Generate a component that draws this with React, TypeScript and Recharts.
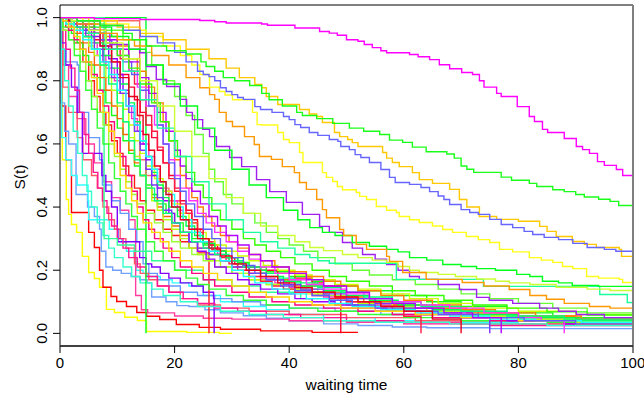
import React from "react";
import { LineChart, Line, XAxis, YAxis, ReferenceLine, Label } from "recharts";

type Pt = [number, number];

const xTicks = [0, 20, 40, 60, 80, 100];
const yTicks = [0, 0.2, 0.4, 0.6, 0.8, 1.0];
const xTitle = "waiting time";
const yTitle = "S(t)";

// ---- long-running curves ----
const magentaTop: Pt[] = [[0,1],[6,0.997],[14,0.994],[24.4,0.991],[27,0.987],[29,0.983],[35.2,0.98],[36.2,0.976],[41,0.967],[45.3,0.956],[47,0.951],[48.4,0.944],[50,0.93],[52,0.925],[53.1,0.915],[54.5,0.905],[56,0.895],[57,0.889],[61,0.883],[62.5,0.876],[64.5,0.867],[66.2,0.851],[68,0.838],[70.1,0.826],[72,0.82],[73.2,0.8],[74,0.78],[76.2,0.76],[77,0.75],[79.8,0.718],[81.9,0.687],[82.8,0.671],[84.2,0.646],[85.1,0.636],[88,0.617],[90.1,0.592],[91.2,0.582],[92.4,0.57],[93.8,0.544],[95,0.532],[97.1,0.519],[98.2,0.5],[100,0.497]];
const greenTop: Pt[] = [[0,1],[3,0.99],[7,0.975],[11,0.95],[12.6,0.93],[15.1,0.91],[18.6,0.895],[22,0.885],[24.6,0.86],[25.5,0.845],[27,0.83],[28.5,0.81],[30.5,0.8],[33.1,0.785],[35.2,0.76],[36.5,0.74],[38.8,0.72],[41.3,0.7],[42.3,0.69],[44.8,0.68],[47.6,0.665],[50.5,0.65],[53,0.64],[55.8,0.63],[57.5,0.612],[59.8,0.605],[61.5,0.59],[63.9,0.575],[67.5,0.568],[68.8,0.555],[70,0.53],[71,0.52],[72.2,0.51],[75.8,0.51],[77,0.495],[78.8,0.485],[81.9,0.475],[83.2,0.465],[86,0.455],[88,0.449],[90,0.44],[91.5,0.432],[94,0.425],[96,0.418],[97.5,0.405],[100,0.39]];
const blueLong: Pt[] = [[0,1],[3,0.99],[7,0.975],[11,0.96],[14,0.94],[17,0.92],[20,0.89],[22,0.86],[24,0.83],[25,0.82],[26,0.813],[27,0.8],[28,0.778],[29,0.766],[30,0.756],[31,0.747],[32,0.741],[34,0.718],[35,0.709],[37,0.7],[39,0.687],[40,0.677],[41,0.661],[42,0.652],[43.5,0.636],[45,0.627],[47,0.614],[48.5,0.608],[49,0.592],[50.5,0.582],[51.5,0.566],[52.5,0.557],[54,0.541],[56,0.519],[57.5,0.494],[58.5,0.478],[61,0.472],[63,0.462],[64.5,0.449],[66,0.435],[67,0.424],[68,0.408],[70,0.392],[71.5,0.383],[73,0.377],[75,0.361],[77,0.345],[79,0.335],[81,0.323],[82.5,0.313],[84.5,0.304],[87,0.297],[89.5,0.285],[92,0.272],[95,0.266],[97,0.26],[100,0.26]];
const goldLong: Pt[] = [[0,1],[5,0.99],[10,0.97],[14,0.95],[18,0.93],[22,0.9],[26,0.87],[29,0.84],[31.3,0.81],[34,0.788],[35.2,0.778],[36,0.75],[38,0.725],[41.8,0.709],[43.5,0.695],[44.8,0.687],[45.8,0.668],[47.9,0.636],[48.8,0.623],[50.2,0.614],[51,0.604],[52,0.592],[56.3,0.573],[57,0.555],[58,0.541],[59.2,0.528],[61.5,0.509],[62.7,0.487],[65,0.475],[68,0.456],[69.7,0.424],[71,0.4],[73.2,0.37],[76.2,0.361],[80,0.355],[83.7,0.339],[85,0.323],[86.6,0.307],[89.4,0.291],[91.5,0.282],[93.6,0.272],[97.6,0.266],[98,0.244],[100,0.244]];
const orangeLong: Pt[] = [[0,1],[3,0.98],[7,0.95],[10,0.93],[13,0.91],[16,0.88],[19,0.85],[22,0.81],[24.4,0.778],[26.1,0.756],[27,0.741],[27.8,0.7],[29,0.671],[30.1,0.655],[32.2,0.623],[33.9,0.598],[34.8,0.56],[36.9,0.551],[38.8,0.528],[40.9,0.509],[41.8,0.478],[43,0.456],[44.8,0.424],[45.8,0.392],[46.5,0.366],[48.8,0.329],[49.5,0.31],[51.7,0.282],[53.5,0.266],[57,0.244],[57.5,0.228],[59.8,0.193],[63.9,0.171],[70.2,0.161],[74,0.15],[78.4,0.139],[82,0.12],[84.9,0.108],[88,0.095],[92.4,0.085],[96,0.08],[100,0.079]];
const yellowLong: Pt[] = [[0,1],[4,0.99],[8,0.98],[12,0.96],[15,0.94],[18,0.91],[21,0.88],[23,0.85],[24.4,0.82],[26.1,0.78],[27.8,0.766],[28.8,0.755],[30.1,0.74],[33.6,0.7],[34.4,0.661],[35.2,0.66],[38,0.636],[39,0.614],[40,0.604],[41.8,0.573],[42.4,0.541],[45.8,0.509],[46.5,0.494],[47.6,0.481],[48.4,0.465],[49.3,0.455],[51.7,0.446],[52.3,0.434],[53.5,0.424],[55.2,0.402],[57,0.39],[58.7,0.383],[59.2,0.37],[61,0.36],[62.7,0.351],[65,0.34],[66.8,0.329],[68.5,0.32],[70.9,0.307],[73,0.297],[75,0.288],[76.7,0.266],[79,0.258],[81.9,0.24],[84,0.232],[86,0.225],[87.7,0.212],[89.5,0.205],[91.9,0.18],[94,0.175],[97.6,0.171],[98.2,0.161],[100,0.161]];
const greenMid: Pt[] = [[0,1],[3,0.99],[6,0.97],[9,0.94],[12,0.9],[15,0.85],[18,0.79],[21,0.72],[24,0.65],[27,0.58],[30,0.52],[33,0.47],[36,0.43],[39,0.39],[41.5,0.36],[43.6,0.335],[45.8,0.32],[48,0.31],[51,0.288],[54,0.276],[57,0.266],[59,0.258],[61,0.24],[64,0.232],[66.8,0.218],[70,0.212],[72.7,0.205],[76,0.2],[79.7,0.187],[82,0.18],[84.2,0.165],[87,0.16],[89.4,0.152],[94,0.149],[100,0.146]];
const yellowGreenMid: Pt[] = [[0,1],[2,0.99],[5,0.96],[8,0.92],[11,0.87],[14,0.8],[17,0.72],[20,0.64],[23,0.56],[26,0.49],[29,0.43],[32,0.38],[35,0.34],[38,0.31],[41,0.29],[43.6,0.272],[46,0.262],[49.3,0.25],[52,0.24],[54.5,0.232],[57,0.225],[59,0.212],[61,0.2],[62.7,0.193],[66,0.187],[69,0.18],[72.7,0.172],[76,0.165],[78.4,0.16],[82,0.155],[86.6,0.146],[92,0.14],[96,0.136],[100,0.133]];
const aquaMid: Pt[] = [[0,1],[2,0.99],[5,0.95],[8,0.9],[11,0.83],[14,0.74],[17,0.65],[20,0.56],[23,0.48],[26,0.41],[29,0.36],[32,0.32],[35,0.29],[38,0.27],[41,0.25],[43.6,0.24],[45,0.23],[47,0.222],[58.7,0.171],[73.9,0.149],[94.2,0.123],[99,0.098],[100,0.098]];
const purpleMid: Pt[] = [[0,1],[3,0.98],[6,0.95],[8.7,0.915],[12,0.9],[13.9,0.889],[15.1,0.845],[16.8,0.804],[18.6,0.782],[20.9,0.741],[22.1,0.7],[23.1,0.677],[24.9,0.646],[26.1,0.623],[27.3,0.592],[29.6,0.557],[31.7,0.528],[34.3,0.487],[36.6,0.449],[39.5,0.415],[42.3,0.377],[45.3,0.339],[47,0.32],[49.3,0.288],[51,0.27],[52.8,0.25],[55,0.235],[57,0.218],[59,0.2],[61,0.18],[62.7,0.171],[66,0.155],[69.7,0.139],[72.7,0.114],[74.9,0.105],[79,0.095],[83.7,0.08],[87,0.07],[90.1,0.06],[95,0.05],[100,0.044]];

// ---- fast-dropping curves ----
const yellowFast: Pt[] = [[0,1],[0.4,0.55],[1.1,0.424],[1.5,0.377],[2,0.345],[2.9,0.32],[3.9,0.244],[5,0.193],[6,0.174],[6.9,0.146],[8.1,0.076],[9.5,0.066],[11.3,0.051],[13.5,0.041],[15.1,0.006],[22.1,0.003],[27.8,0],[30,0]];
const redFast: Pt[] = [[0,1],[0.3,0.72],[1,0.55],[2,0.383],[5,0.32],[6,0.272],[6.9,0.2],[7.5,0.146],[8.9,0.117],[9.9,0.101],[11.6,0.085],[13.4,0.066],[15.1,0.054],[17.4,0.044],[20.3,0.028],[24.3,0.019],[28,0.013],[35,0.008],[44,0.003],[52,0.003]];
const lightBlueFast: Pt[] = [[0,1],[0.2,0.73],[0.8,0.64],[1.5,0.6],[2.8,0.44],[4.8,0.4],[6,0.37],[6.9,0.33],[7.2,0.26],[8,0.21],[9.2,0.2],[10.7,0.19],[12.4,0.18],[13.9,0.17],[15.2,0.16],[16,0.115],[18.5,0.1],[20.4,0.088],[22.5,0.085],[25.3,0.075],[28,0.065],[32,0.056],[36,0.048],[40,0.04],[46,0.03],[52,0.025],[58,0.02],[64,0.018],[75,0.015],[100,0.012]];
const cyanFast: Pt[] = [[0,1],[0.3,0.62],[1,0.55],[2,0.5],[3,0.47],[4.9,0.42],[5,0.36],[8.6,0.33],[10.1,0.3],[10.8,0.29],[11.6,0.26],[12.9,0.24],[13.3,0.2],[14.5,0.19],[15.3,0.18],[17.5,0.17],[19.6,0.16],[22.5,0.15],[25,0.12],[28,0.1],[32,0.085],[36,0.075],[40,0.06],[46,0.05],[55,0.04],[65,0.035],[80,0.03],[100,0.028]];
const pinkDrop: Pt[] = [[0,1],[0.5,0.85],[1.5,0.75],[3,0.68],[4.5,0.6],[6,0.54],[7.5,0.48],[9,0.43],[10.5,0.39],[12,0.36],[13.1,0.33],[13.2,0.12],[14.2,0.075],[15.3,0.065],[20,0.055],[25,0.048],[30,0.045],[40,0.04],[50,0.035],[70,0.03],[100,0.025]];
const lightBlue2: Pt[] = [[0,1],[0.2,0.9],[1,0.86],[3,0.85],[3.3,0.7],[5,0.62],[6.9,0.55],[7.4,0.47],[9,0.42],[10.5,0.38],[12,0.33],[13.4,0.29],[14.5,0.22],[15.5,0.19],[17,0.17],[19,0.15],[21,0.13],[24,0.12],[27,0.11],[30,0.1],[35,0.09],[40,0.08],[48,0.07],[56,0.06],[65,0.05],[80,0.045],[100,0.04]];
const salmonFast: Pt[] = [[0,1],[0.5,0.78],[1.5,0.7],[3,0.62],[4,0.55],[5.5,0.5],[6.5,0.46],[7.5,0.4],[8.5,0.36],[9.5,0.33],[10.5,0.3],[11.5,0.27],[13,0.22],[14,0.19],[15.5,0.17],[17,0.15],[19,0.13],[21,0.11],[24,0.09],[28,0.08],[33,0.07],[40,0.06],[50,0.05],[62,0.04],[75,0.03],[100,0.02]];
const purpleFast: Pt[] = [[0,1],[0.3,0.92],[1,0.85],[2,0.78],[3,0.7],[3.9,0.57],[7.3,0.5],[8,0.45],[9,0.4],[10,0.33],[10.1,0.29],[13.9,0.24],[15,0.22],[16,0.21],[17.5,0.19],[19,0.175],[21,0.16],[23,0.15],[25,0.13],[26.8,0.11],[26.9,0]];
const redDrop26: Pt[] = [[0,1],[1,0.97],[2.5,0.92],[4,0.86],[5,0.8],[6,0.75],[7,0.7],[8,0.66],[9,0.61],[10,0.57],[11,0.53],[12,0.5],[13,0.46],[14,0.42],[15,0.39],[16.5,0.36],[18,0.33],[19.5,0.31],[21,0.29],[22.5,0.27],[24,0.255],[25.9,0.24],[26,0]];

// ---- mid curves ----
const greenBlock: Pt[] = [[0,1],[15,0]];
const salmonBlock: Pt[] = [[0,1],[6,0.99],[13.9,0.55],[15,0.5],[17,0.46],[19,0.42],[21,0.38],[23,0.33],[25,0.29],[27,0.26],[29,0.23],[32,0.21],[35,0.19],[38,0.17],[42,0.15],[46,0.13],[50,0.11],[55,0.095],[60,0.08],[70,0.06],[80,0.045],[90,0.035],[100,0.03]];
const springBlock: Pt[] = [[0,1],[7.7,0.3],[10,0.28],[13,0.26],[16,0.23],[20,0.2],[25,0.17],[30,0.15],[35,0.13],[42,0.11],[50,0.09],[60,0.07],[75,0.04],[100,0.02]];
const greenA: Pt[] = [[0,1],[1,0.98],[2,0.95],[3,0.92],[4,0.88],[5,0.85],[6,0.81],[7,0.77],[8,0.73],[9,0.69],[10,0.65],[11,0.61],[12,0.57],[13,0.53],[14,0.5],[15,0.47],[16,0.44],[17,0.41],[18.5,0.38],[20,0.35],[21.5,0.32],[23,0.3],[25,0.28],[27,0.26],[29,0.24],[31,0.225],[33,0.21],[36,0.195],[40,0.18],[44,0.165],[48,0.15],[52,0.135],[58,0.12],[64,0.1],[70,0.085],[78,0.065],[86,0.05],[100,0.035]];
const limeA: Pt[] = [[0,1],[0.5,0.96],[1.5,0.93],[2.5,0.9],[3.5,0.86],[4.5,0.8],[5.5,0.75],[6.5,0.7],[7.5,0.66],[8.5,0.6],[9.5,0.56],[10.5,0.52],[11.5,0.48],[12.5,0.44],[13.5,0.41],[15,0.38],[16.5,0.35],[18,0.32],[19.5,0.29],[21,0.27],[23,0.25],[25,0.23],[27,0.21],[30,0.19],[33,0.17],[36,0.155],[40,0.14],[45,0.12],[50,0.1],[56,0.085],[62,0.07],[70,0.055],[80,0.045],[90,0.035],[100,0.03]];
const pinkA: Pt[] = [[0,1],[1,0.99],[2,0.97],[3.5,0.95],[5,0.92],[6.5,0.88],[8,0.84],[9.5,0.8],[10.5,0.76],[11.5,0.72],[12.5,0.68],[13.5,0.64],[14.5,0.6],[15.5,0.56],[16.5,0.52],[17.5,0.48],[18.5,0.45],[19.5,0.42],[20.5,0.39],[21.5,0.36],[23,0.33],[24.5,0.3],[26,0.27],[27.5,0.25],[29,0.23],[31,0.21],[33,0.19],[35,0.175],[37.5,0.16],[40,0.145],[43,0.13],[46,0.115],[50,0.1],[55,0.09],[60,0.08],[66,0.07],[73,0.06],[80,0.05],[90,0.045],[100,0.04]];
const redDrop49: Pt[] = [[0,1],[1.5,0.99],[3,0.98],[4.5,0.96],[6,0.93],[7.5,0.9],[9,0.86],[10.5,0.82],[12,0.78],[13,0.74],[14,0.7],[15,0.66],[16,0.62],[17,0.58],[18,0.54],[19,0.5],[20,0.46],[21,0.42],[22,0.39],[23,0.36],[24,0.33],[25,0.3],[26,0.28],[27.5,0.26],[29,0.24],[30.5,0.22],[32,0.21],[35,0.2],[38,0.19],[41,0.175],[44,0.16],[46,0.15],[49,0]];
const orangeA: Pt[] = [[0,1],[1,0.99],[2,0.97],[3,0.95],[4,0.92],[5,0.89],[6,0.85],[7,0.81],[8,0.77],[9,0.72],[10,0.68],[11,0.63],[12,0.58],[13,0.54],[14,0.5],[15,0.46],[16,0.43],[17,0.4],[18,0.37],[19.5,0.34],[21,0.31],[22.5,0.29],[24,0.27],[26,0.25],[28,0.23],[30,0.21],[33,0.19],[36,0.17],[40,0.15],[44,0.13],[48,0.115],[53,0.1],[58,0.09],[64,0.08],[71,0.065],[80,0.055],[90,0.045],[100,0.04]];
const yellowGreenA: Pt[] = [[0,1],[1,0.99],[2.5,0.97],[4,0.94],[5.5,0.9],[7,0.86],[8.5,0.81],[10,0.76],[11,0.71],[12,0.66],[13,0.61],[14,0.57],[15,0.53],[16.5,0.49],[18,0.45],[19.5,0.41],[21,0.38],[22.5,0.35],[24,0.32],[25.5,0.3],[27,0.28],[29,0.26],[31,0.245],[33,0.23],[35.5,0.215],[38,0.2],[41,0.185],[44,0.17],[48,0.155],[52,0.14],[56,0.125],[61,0.11],[66,0.095],[72,0.08],[80,0.07],[90,0.06],[100,0.055]];
const greenB: Pt[] = [[0,1],[0.5,0.97],[1.5,0.93],[2.5,0.88],[3.5,0.83],[4.5,0.77],[5.5,0.71],[6.5,0.65],[7.5,0.6],[8.5,0.54],[9.5,0.49],[10.5,0.45],[11.5,0.41],[12.5,0.37],[13.5,0.33],[15,0.29],[16.5,0.26],[18,0.23],[20,0.2],[22,0.175],[24,0.155],[26,0.14],[29,0.12],[32,0.105],[36,0.09],[40,0.08],[45,0.07],[52,0.06],[60,0.05],[70,0.04],[85,0.035],[100,0.03]];
const pinkB: Pt[] = [[0,1],[0.5,0.99],[1.5,0.96],[2.5,0.93],[3.5,0.9],[4.5,0.86],[5.5,0.82],[6.5,0.77],[7.5,0.72],[8.5,0.67],[9.5,0.62],[10.5,0.56],[11.5,0.5],[12.5,0.45],[13.5,0.4],[14.5,0.36],[15.5,0.33],[16.5,0.3],[18,0.27],[19.5,0.24],[21,0.21],[23,0.19],[25,0.17],[27,0.15],[30,0.13],[33,0.115],[37,0.1],[41,0.09],[46,0.08],[52,0.07],[58,0.06],[65,0.05],[75,0.04],[88,0.03],[100,0.025]];
const yellowGreenB: Pt[] = [[0,1],[1,0.99],[2,0.98],[3,0.96],[4,0.94],[5,0.91],[6,0.88],[7,0.85],[8,0.81],[9,0.77],[10,0.72],[11,0.67],[12,0.62],[13,0.56],[14,0.5],[15,0.46],[16,0.42],[17,0.39],[18,0.36],[19.5,0.33],[21,0.3],[22.5,0.27],[24,0.25],[26,0.23],[28,0.21],[30,0.19],[33,0.17],[36,0.155],[39,0.14],[43,0.125],[47,0.11],[52,0.095],[58,0.08],[64,0.07],[72,0.055],[80,0.045],[90,0.035],[100,0.03]];
const purpleB: Pt[] = [[0,1],[1,0.99],[2.5,0.98],[4,0.96],[5.5,0.94],[7,0.91],[8.5,0.87],[10,0.82],[11,0.77],[12,0.72],[13,0.66],[14,0.6],[15,0.55],[16,0.5],[17,0.46],[18,0.42],[19,0.38],[20,0.35],[21,0.32],[22.5,0.29],[24,0.26],[25.5,0.235],[27,0.21],[29,0.19],[31,0.17],[33,0.155],[35,0.14],[38,0.125],[41,0.11],[44,0.1],[48,0.09],[52,0.08],[57,0.07],[63,0.06],[70,0.05],[78,0.04],[88,0.03],[100,0.02]];
const redDrop63: Pt[] = [[0,1],[1.5,0.99],[3,0.98],[4.5,0.97],[6,0.95],[7.5,0.93],[9,0.9],[10.5,0.87],[12,0.83],[13,0.79],[14,0.74],[15,0.69],[16,0.64],[17,0.59],[18,0.54],[19,0.49],[20,0.45],[21,0.41],[22,0.38],[23,0.35],[24,0.32],[25,0.29],[26.5,0.265],[28,0.24],[29.5,0.22],[31,0.2],[33,0.18],[35,0.165],[37,0.15],[39,0.14],[41,0.13],[44,0.12],[47,0.11],[50,0.1],[54,0.085],[58,0.07],[60,0.054],[63,0]];
const greenC: Pt[] = [[0,1],[1.5,0.99],[3,0.97],[4.5,0.95],[6,0.92],[7.5,0.88],[9,0.84],[10.5,0.79],[12,0.73],[13,0.67],[14,0.61],[15,0.56],[16,0.51],[17,0.47],[18,0.43],[19,0.4],[20.5,0.37],[22,0.34],[23.5,0.31],[25,0.285],[27,0.26],[29,0.24],[31,0.22],[33,0.2],[36,0.18],[39,0.165],[42,0.15],[46,0.135],[50,0.12],[54,0.105],[59,0.09],[65,0.075],[72,0.06],[80,0.05],[90,0.042],[100,0.035]];
const orangeB: Pt[] = [[0,1],[2,0.99],[4,0.98],[6,0.96],[8,0.94],[10,0.91],[12,0.87],[13.5,0.83],[15,0.78],[16.5,0.73],[18,0.67],[19,0.61],[20,0.55],[21,0.5],[22,0.46],[23,0.43],[24,0.4],[25,0.37],[26.5,0.34],[28,0.31],[29.5,0.29],[31,0.27],[33,0.25],[35,0.23],[37.5,0.21],[40,0.195],[43,0.18],[46,0.165],[49,0.15],[52,0.135],[56,0.12],[60,0.105],[65,0.09],[70,0.075],[76,0.065],[83,0.055],[91,0.045],[100,0.038]];
const violetDrop75: Pt[] = [[0,1],[1.5,0.99],[3,0.97],[4.5,0.94],[6,0.9],[7.5,0.86],[9,0.81],[10.5,0.76],[12,0.7],[13,0.64],[14,0.58],[15,0.52],[16,0.47],[17,0.43],[18,0.39],[19.5,0.35],[21,0.32],[22.5,0.29],[24,0.27],[26,0.25],[28,0.23],[30,0.21],[33,0.19],[36,0.17],[39,0.155],[42,0.14],[46,0.125],[50,0.11],[55,0.095],[60,0.08],[65,0.065],[70,0.05],[75,0]];
const springC: Pt[] = [[0,1],[1,0.99],[2.5,0.97],[4,0.94],[5.5,0.9],[7,0.85],[8.5,0.79],[10,0.73],[11,0.67],[12,0.61],[13,0.55],[14,0.5],[15,0.46],[16.5,0.42],[18,0.38],[19.5,0.35],[21,0.32],[23,0.29],[25,0.27],[27,0.25],[29.5,0.23],[32,0.21],[35,0.19],[38,0.175],[41,0.16],[45,0.145],[49,0.13],[53,0.115],[58,0.1],[63,0.085],[70,0.07],[78,0.055],[88,0.045],[100,0.035]];
const magentaDrop88: Pt[] = [[0,1],[2,0.99],[4,0.97],[6,0.95],[8,0.92],[10,0.88],[12,0.83],[13.5,0.78],[15,0.72],[16.5,0.66],[18,0.6],[19,0.55],[20,0.5],[21,0.46],[22.5,0.42],[24,0.38],[25.5,0.35],[27,0.32],[29,0.29],[31,0.26],[33,0.235],[35,0.21],[37.5,0.19],[40,0.17],[43,0.155],[46,0.14],[50,0.125],[54,0.11],[58,0.1],[63,0.09],[68,0.08],[74,0.065],[80,0.05],[84,0.04],[88,0]];
const limeLate: Pt[] = [[0,1],[2,0.99],[4,0.97],[6,0.95],[8,0.92],[10,0.88],[12,0.84],[14,0.79],[16,0.73],[17.5,0.67],[19,0.61],[20.5,0.56],[22,0.51],[23.5,0.47],[25,0.43],[26.5,0.39],[28,0.36],[30,0.33],[32,0.3],[34,0.28],[36,0.26],[38.5,0.24],[41,0.22],[44,0.2],[47,0.18],[50,0.165],[54,0.15],[58,0.135],[62,0.12],[67,0.105],[72,0.09],[78,0.08],[85,0.068],[92,0.058],[100,0.05]];
const cyanB: Pt[] = [[0,1],[1,0.98],[2.5,0.96],[4,0.93],[5.5,0.9],[7,0.86],[8.5,0.82],[10,0.77],[11.5,0.72],[13,0.66],[14,0.61],[15,0.56],[16,0.52],[17,0.48],[18.5,0.44],[20,0.4],[21.5,0.36],[23,0.32],[24.5,0.29],[26,0.26],[28,0.23],[30,0.2],[32,0.18],[34,0.16],[37,0.14],[40,0.125],[43,0.11],[47,0.095],[51,0.085],[56,0.075],[62,0.065],[68,0.055],[75,0.045],[83,0.04],[91,0.035],[100,0.03]];
const goldB: Pt[] = [[0,1],[0.5,0.99],[1.5,0.97],[2.5,0.94],[3.5,0.9],[4.5,0.86],[5.5,0.81],[6.5,0.76],[7.5,0.7],[8.5,0.64],[9.5,0.57],[10.5,0.5],[11.5,0.46],[12.5,0.42],[13.5,0.38],[14.5,0.35],[16,0.32],[17.5,0.29],[19,0.26],[21,0.23],[23,0.21],[25,0.19],[27.5,0.17],[30,0.15],[33,0.13],[36,0.115],[40,0.1],[44,0.09],[49,0.08],[55,0.07],[62,0.06],[70,0.05],[80,0.04],[90,0.03],[100,0.025]];
const blueB: Pt[] = [[0,1],[1.5,0.99],[3,0.98],[5,0.96],[7,0.93],[9,0.9],[11,0.86],[12.5,0.82],[14,0.77],[15.5,0.72],[17,0.66],[18,0.6],[19,0.54],[20,0.49],[21,0.45],[22,0.41],[23.5,0.37],[25,0.33],[26.5,0.3],[28,0.27],[30,0.24],[32,0.215],[34,0.19],[36,0.17],[38.5,0.15],[41,0.135],[44,0.12],[47,0.105],[51,0.09],[55,0.08],[60,0.07],[66,0.06],[73,0.05],[81,0.04],[90,0.03],[100,0.02]];
const redDrop70: Pt[] = [[0,1],[1.5,0.99],[3,0.98],[5,0.95],[7,0.91],[9,0.86],[10.5,0.81],[12,0.75],[13.5,0.69],[14.5,0.63],[15.5,0.58],[16.5,0.53],[17.5,0.48],[18.5,0.44],[19.5,0.4],[21,0.36],[22.5,0.33],[24,0.3],[26,0.27],[28,0.245],[30,0.22],[32.5,0.2],[35,0.18],[38,0.16],[41,0.145],[44,0.13],[48,0.115],[52,0.1],[56,0.085],[60,0.07],[65,0.045],[70,0]];
const deepPinkFast: Pt[] = [[0,1],[0.3,0.96],[1,0.9],[1.8,0.84],[2.6,0.77],[3.4,0.7],[4.2,0.63],[5,0.57],[5.8,0.51],[6.6,0.46],[7.4,0.42],[8.2,0.38],[9,0.34],[10,0.3],[11,0.27],[12,0.24],[13.5,0.21],[15,0.18],[17,0.15],[19,0.13],[21.5,0.11],[24,0.095],[27,0.08],[31,0.07],[36,0.06],[42,0.05],[50,0.04],[60,0.03],[75,0.025],[100,0.02]];
const tealFast: Pt[] = [[0,1],[0.2,0.9],[0.8,0.8],[1.5,0.72],[2.3,0.64],[3.1,0.57],[3.9,0.5],[4.7,0.45],[5.5,0.4],[6.5,0.35],[7.5,0.31],[8.5,0.27],[9.5,0.24],[11,0.21],[12.5,0.18],[14,0.16],[16,0.14],[18,0.12],[21,0.1],[24,0.085],[28,0.07],[33,0.06],[39,0.05],[46,0.04],[55,0.035],[68,0.03],[85,0.025],[100,0.02]];
const purpleDrop77: Pt[] = [[0,1],[2,0.99],[4,0.98],[6,0.96],[8,0.93],[10,0.9],[12,0.86],[14,0.81],[15.5,0.76],[17,0.7],[18.5,0.64],[20,0.58],[21,0.53],[22,0.49],[23,0.45],[24.5,0.41],[26,0.37],[27.5,0.34],[29,0.31],[31,0.28],[33,0.25],[35,0.23],[37,0.21],[40,0.19],[43,0.17],[46,0.15],[50,0.13],[54,0.11],[58,0.095],[62,0.08],[67,0.065],[72,0.05],[77,0]];
const lightGreenLate: Pt[] = [[0,1],[2,0.99],[5,0.98],[8,0.96],[11,0.93],[14,0.89],[16,0.85],[18,0.8],[20,0.75],[22,0.69],[23.5,0.63],[25,0.57],[26,0.52],[27,0.48],[28.5,0.44],[30,0.41],[32,0.38],[34,0.35],[36,0.32],[38,0.3],[40,0.28],[42.5,0.26],[45,0.24],[48,0.22],[51,0.2],[54,0.185],[58,0.17],[62,0.155],[66,0.14],[70,0.125],[75,0.11],[80,0.095],[86,0.08],[92,0.065],[100,0.054]];

const curveSeries: { name: string; color: string; pts: Pt[] }[] = [
  { name: "yellowFast", color: "#FFFF00", pts: yellowFast },
  { name: "redFast", color: "#FF0000", pts: redFast },
  { name: "lightBlueFast", color: "#6FA0FF", pts: lightBlueFast },
  { name: "cyanFast", color: "#33FFFF", pts: cyanFast },
  { name: "pinkDrop", color: "#FF3DA0", pts: pinkDrop },
  { name: "lightBlue2", color: "#6699FF", pts: lightBlue2 },
  { name: "salmonFast", color: "#FF5566", pts: salmonFast },
  { name: "purpleFast", color: "#8000FF", pts: purpleFast },
  { name: "redDrop26", color: "#FF1A1A", pts: redDrop26 },
  { name: "deepPinkFast", color: "#FF1493", pts: deepPinkFast },
  { name: "tealFast", color: "#33FFCC", pts: tealFast },
  { name: "greenBlock", color: "#00FF33", pts: greenBlock },
  { name: "salmonBlock", color: "#FF6666", pts: salmonBlock },
  { name: "springBlock", color: "#33FF99", pts: springBlock },
  { name: "greenA", color: "#1AFF1A", pts: greenA },
  { name: "limeA", color: "#99FF33", pts: limeA },
  { name: "pinkA", color: "#FF33CC", pts: pinkA },
  { name: "redDrop49", color: "#FF0033", pts: redDrop49 },
  { name: "orangeA", color: "#FF6600", pts: orangeA },
  { name: "yellowGreenA", color: "#CCFF00", pts: yellowGreenA },
  { name: "greenB", color: "#33FF33", pts: greenB },
  { name: "pinkB", color: "#FF0080", pts: pinkB },
  { name: "yellowGreenB", color: "#B3FF1A", pts: yellowGreenB },
  { name: "purpleB", color: "#9900FF", pts: purpleB },
  { name: "redDrop63", color: "#FF1A40", pts: redDrop63 },
  { name: "greenC", color: "#00FF4D", pts: greenC },
  { name: "orangeB", color: "#FF8000", pts: orangeB },
  { name: "violetDrop75", color: "#7A33FF", pts: violetDrop75 },
  { name: "springC", color: "#00FF80", pts: springC },
  { name: "magentaDrop88", color: "#FF33FF", pts: magentaDrop88 },
  { name: "cyanB", color: "#1AFFFF", pts: cyanB },
  { name: "goldB", color: "#FFD700", pts: goldB },
  { name: "blueB", color: "#5C5CFF", pts: blueB },
  { name: "redDrop70", color: "#E6001A", pts: redDrop70 },
  { name: "purpleDrop77", color: "#B300FF", pts: purpleDrop77 },
  { name: "lightGreenLate", color: "#66FF33", pts: lightGreenLate },
  { name: "limeLate", color: "#33FF00", pts: limeLate },
  { name: "purpleMid", color: "#A020F0", pts: purpleMid },
  { name: "aquaMid", color: "#1AFF9C", pts: aquaMid },
  { name: "yellowGreenMid", color: "#CCFF33", pts: yellowGreenMid },
  { name: "greenMid", color: "#00FF1A", pts: greenMid },
  { name: "orangeLong", color: "#FF9900", pts: orangeLong },
  { name: "yellowLong", color: "#FFFF1A", pts: yellowLong },
  { name: "goldLong", color: "#FFC800", pts: goldLong },
  { name: "blueLong", color: "#6666FF", pts: blueLong },
  { name: "greenTop", color: "#1AFF1A", pts: greenTop },
  { name: "magentaTop", color: "#FF00FF", pts: magentaTop },
];

const FONT = "'Liberation Sans', Arial, Helvetica, sans-serif";

const YTick = (props: any) => {
  const { y, payload } = props;
  return (
    <text
      x={42}
      y={y}
      transform={`rotate(-90 42 ${y})`}
      textAnchor="middle"
      dominantBaseline="central"
      fontSize={15}
      fontFamily={FONT}
      fill="#000"
    >
      {Number(payload.value).toFixed(1)}
    </text>
  );
};

export default function App() {
  const series = curveSeries.map((c) => ({
    ...c,
    data: c.pts.map(([t, s]) => ({ t, s })),
  }));
  return (
    <div style={{ position: "absolute", left: 0, top: 0, background: "#fff" }}>
      <LineChart width={644} height={396} margin={{ top: 5, right: 11, bottom: 0, left: 0 }}>
        <XAxis
          type="number"
          dataKey="t"
          domain={[0, 100]}
          ticks={xTicks}
          allowDataOverflow
          axisLine={false}
          tickLine={{ stroke: "#000" }}
          tickSize={7}
          tickMargin={4}
          height={50}
          tick={{ fontSize: 15, fill: "#000", fontFamily: FONT }}
        >
          <Label value={xTitle} position="insideBottom" offset={6} style={{ fontSize: 15.5, fill: "#000", fontFamily: FONT }} />
        </XAxis>
        <YAxis
          type="number"
          domain={[-0.04, 1.04]}
          ticks={yTicks}
          allowDataOverflow
          axisLine={false}
          tickLine={{ stroke: "#000" }}
          tickSize={7}
          width={60}
          tick={<YTick />}
        >
          <Label
            content={() => (
              <text x={19} y={177} transform="rotate(-90 19 177)" textAnchor="middle" dominantBaseline="central" fontSize={15.5} fontFamily={FONT} fill="#000">
                {yTitle}
              </text>
            )}
          />
        </YAxis>
        {series.map((c) => (
          <Line
            key={c.name}
            name={c.name}
            data={c.data}
            dataKey="s"
            type="stepAfter"
            stroke={c.color}
            strokeWidth={1.4}
            dot={false}
            activeDot={false}
            isAnimationActive={false}
          />
        ))}
        <ReferenceLine y={1.04} stroke="#000" strokeWidth={1} />
        <ReferenceLine x={0} stroke="#000" strokeWidth={1} />
        <ReferenceLine x={100} stroke="#7f7f7f" strokeWidth={2} />
        <ReferenceLine y={-0.04} stroke="#404040" strokeWidth={2} />
      </LineChart>
    </div>
  );
}
